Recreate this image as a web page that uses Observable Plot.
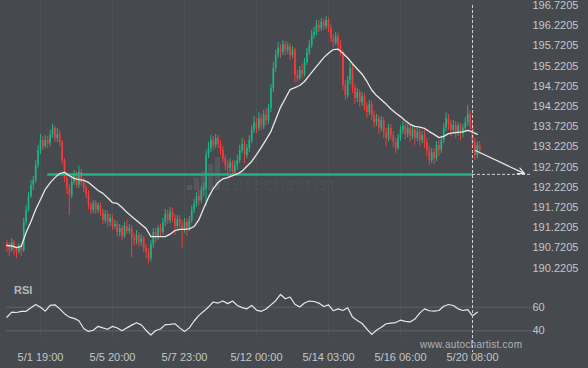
<!DOCTYPE html>
<html><head><meta charset="utf-8">
<script src="https://cdn.jsdelivr.net/npm/d3@7"></script>
<script src="https://cdn.jsdelivr.net/npm/@observablehq/plot@0.6"></script>
<style>
body{margin:0;background:#46494e;}
#wrap{position:relative;width:588px;height:368px;background:#46494e;overflow:hidden;font-family:"Liberation Sans",Arial,sans-serif;}
#wrap svg{display:block;overflow:visible;}
.ov{position:absolute;white-space:nowrap;}
#rsiLabel{left:14px;top:285px;font-size:11px;line-height:11px;font-weight:bold;color:#b5b9bd;}
#site{left:420px;top:340px;font-size:10px;line-height:10px;letter-spacing:0.25px;color:#b0b4b8;}
#wm{left:222px;top:176px;font-family:"Open Sans",sans-serif;font-weight:300;font-size:16px;line-height:16px;letter-spacing:2.4px;color:rgba(255,255,255,0.08);}
.wb{position:absolute;width:5px;background:rgba(255,255,255,0.08);}
</style></head><body><div id="wrap"></div>
<script>
// ---- data ----
const firstOpen = 190.83;
const close = [
190.78,190.66,190.85,190.71,190.61,190.76,190.66,191.35,191.65,191.99,
192.27,192.39,192.76,193.13,193.38,193.23,193.38,193.30,193.50,193.68,
193.43,193.53,193.33,192.88,192.44,192.19,192.02,192.34,192.51,192.27,
192.59,192.34,192.19,192.04,191.77,191.65,191.82,191.65,191.77,191.60,
191.40,191.55,191.35,191.45,191.25,191.30,191.10,191.20,191.00,191.25,
191.13,191.20,190.95,190.90,191.03,190.85,190.95,190.71,190.61,190.46,
190.80,191.10,190.98,191.20,191.10,191.35,191.55,191.40,191.60,191.45,
191.25,191.42,191.27,191.15,191.35,191.20,191.40,191.65,191.80,191.99,
191.89,192.14,192.19,193.01,193.18,193.38,193.26,193.43,193.28,193.13,
192.93,192.76,192.69,192.83,192.59,192.76,192.88,193.13,193.28,193.01,
193.18,193.38,193.63,193.82,193.68,193.92,193.73,194.00,193.87,194.17,
194.67,195.16,195.48,195.66,195.56,195.75,195.61,195.70,195.48,195.61,
194.99,194.91,195.11,195.01,195.31,195.56,195.73,195.98,196.05,196.23,
196.15,196.30,196.20,196.35,196.15,195.90,195.80,195.95,195.73,195.56,
194.74,194.49,194.86,195.16,194.67,194.42,194.57,194.32,194.47,194.22,
194.07,194.27,194.00,193.82,193.92,193.68,193.87,193.58,193.43,193.68,
193.50,193.33,193.18,193.43,193.63,193.73,193.53,193.68,193.48,193.63,
193.43,193.58,193.38,193.50,193.33,193.13,192.88,193.08,192.93,193.26,
193.13,193.38,193.68,193.92,193.78,193.63,193.75,193.58,193.73,193.55,
193.68,193.82,194.02,193.73,193.33,193.01,193.26,193.13];
const high = [
190.90,190.85,190.95,190.90,190.76,190.83,190.80,191.45,191.77,192.09,
192.39,192.49,192.88,193.26,193.53,193.48,193.50,193.48,193.63,193.78,
193.73,193.68,193.63,193.38,192.93,192.54,192.29,192.44,192.64,192.59,
192.74,192.66,192.44,192.27,192.14,191.84,191.89,191.89,191.84,191.84,
191.67,191.65,191.62,191.55,191.52,191.40,191.37,191.30,191.27,191.35,
191.40,191.30,191.27,191.08,191.15,191.10,191.05,191.00,190.80,190.71,
190.90,191.20,191.20,191.27,191.30,191.45,191.67,191.65,191.72,191.70,
191.55,191.52,191.52,191.40,191.45,191.45,191.50,191.75,191.92,192.09,
192.14,192.24,192.32,193.13,193.33,193.50,193.48,193.53,193.50,193.38,
193.23,193.01,192.88,192.93,192.88,192.88,193.01,193.26,193.43,193.38,
193.28,193.50,193.75,193.97,193.92,194.07,194.02,194.12,194.17,194.27,
194.76,195.31,195.61,195.80,195.75,195.85,195.83,195.80,195.78,195.70,
195.66,195.11,195.21,195.26,195.41,195.66,195.85,196.10,196.18,196.35,
196.35,196.40,196.37,196.45,196.42,196.23,196.00,196.05,196.03,195.85,
195.61,194.86,194.96,195.31,195.24,194.76,194.67,194.64,194.57,194.54,
194.32,194.37,194.35,194.10,194.02,194.00,193.97,193.95,193.68,193.78,
193.78,193.60,193.43,193.53,193.73,193.85,193.80,193.78,193.75,193.73,
193.70,193.68,193.65,193.60,193.63,193.43,193.23,193.18,193.18,193.35,
193.38,193.48,193.80,194.07,194.02,193.87,193.87,193.85,193.82,193.80,
193.78,193.95,194.25,194.12,193.82,193.43,193.35,193.35];
const low = [
190.61,190.51,190.61,190.53,190.46,190.56,190.51,190.61,191.27,191.60,
191.94,192.14,192.32,192.69,193.03,193.13,193.18,193.18,193.23,193.43,
193.33,193.33,193.23,192.78,192.34,192.04,191.52,191.94,192.27,192.19,
192.19,192.24,192.09,191.94,191.67,191.55,191.57,191.55,191.57,191.50,
191.30,191.32,191.22,191.25,191.15,191.18,190.98,191.00,190.90,190.95,
191.05,191.05,190.48,190.76,190.80,190.73,190.76,190.61,190.46,190.33,
190.38,190.71,190.85,190.90,191.00,191.03,191.25,191.30,191.32,191.35,
191.03,191.18,191.18,190.71,191.08,191.00,191.13,191.32,191.57,191.72,
191.77,191.82,191.99,191.75,192.93,193.08,193.13,193.18,193.18,193.01,
192.83,192.64,192.54,192.59,192.46,192.49,192.64,192.81,193.06,192.81,
192.93,193.08,193.30,193.55,193.55,193.60,193.63,193.65,193.75,193.78,
194.07,194.57,195.06,195.41,195.41,195.48,195.48,195.51,195.36,195.41,
194.81,194.81,194.86,194.91,194.96,195.24,195.48,195.66,195.88,195.98,
196.05,196.08,196.10,196.13,196.05,195.80,195.68,195.73,195.61,195.46,
194.62,194.37,194.42,194.76,194.54,194.27,194.32,194.20,194.22,194.10,
193.92,194.00,193.87,193.70,193.73,193.53,193.60,193.43,193.23,193.35,
193.38,193.20,193.06,193.13,193.35,193.53,193.40,193.45,193.33,193.40,
193.26,193.35,193.23,193.30,193.18,192.98,192.76,192.81,192.78,192.86,
192.98,193.06,193.30,193.60,193.63,193.48,193.53,193.43,193.48,193.38,
193.45,193.60,193.73,193.63,193.23,192.88,192.93,193.03];
// moving average, one reading every second bar
const movingAvg = [
190.78,190.77,190.73,190.76,191.10,191.37,191.67,191.92,192.17,192.33,
192.46,192.56,192.59,192.51,192.44,192.41,192.39,192.34,192.24,192.14,
192.07,191.96,191.84,191.82,191.72,191.60,191.50,191.40,191.30,191.20,
191.00,191.00,191.00,191.00,191.06,191.15,191.18,191.18,191.19,191.25,
191.42,191.70,191.97,192.19,192.34,192.43,192.46,192.51,192.55,192.62,
192.74,192.86,193.03,193.21,193.40,193.60,193.90,194.20,194.42,194.64,
194.69,194.74,194.84,194.99,195.14,195.28,195.43,195.54,195.63,195.64,
195.54,195.42,195.28,195.15,195.02,194.84,194.63,194.49,194.39,194.28,
194.16,194.06,193.97,193.87,193.78,193.73,193.71,193.68,193.60,193.53,
193.45,193.48,193.55,193.57,193.58,193.59,193.63,193.59,193.53];
// RSI, one reading every second bar
const rsi = [
51.5,55.8,55.5,56.5,56.5,59.5,62.3,60.0,56.7,61.5,
62,58.6,54.5,51.6,50.5,48.5,42,39.5,40.5,43.8,
42.5,41.3,43.8,42.4,40,42.5,44.8,46.8,45,40.3,
36.5,40.3,41.5,45.2,45.4,46,42.5,39.5,42.5,48.3,
53.1,56.5,60.2,64.4,63.5,65.2,63,65.2,61.5,59.6,
58.6,61.5,57.5,56.5,58.5,62,65.5,70.8,67.1,68.6,
62.5,60.2,63.5,65.2,64.8,63.5,60.6,62,57,58.6,
57.2,59.5,51.6,48.8,46.2,41.5,37,40.5,43,46,
46.5,47,49,48,47.5,50,55,58.6,57,56.7,
57.2,60.8,62.3,61.4,58.6,57.2,58,52.7,55.8];
const tickBars = [14,44,74,104,134,164,194];
const tickLabels = ["5/1 19:00","5/5 20:00","5/7 23:00","5/12 00:00","5/14 03:00","5/16 06:00","5/20 08:00"];
const priceTicks = [190.2205,190.7205,191.2205,191.7205,192.2205,192.7205,193.2205,193.7205,194.2205,194.7205,195.2205,195.7205,196.2205,196.7205];
const rsiTicks = [40,60];
const levelPrice = 192.54;
const levelStartBar = 17;
const signalBar = 194;
const projectionEndBar = 218.6;
const arrowBars = [195.2, 215.7];
const arrowPrices = [193.13, 192.56];

// ---- build ----
const UP = "#1db489", DOWN = "#f23c3c", TEAL = "#1fb386", LINE = "#e8e8e8", DASH = "#d0d0d0", TXT = "#c3c6ca";
const candles = close.map((c, i) => ({i, open: i ? close[i-1] : firstOpen, close: c, high: high[i], low: low[i]}));
candles.forEach(d => d.color = d.close >= d.open ? UP : DOWN);
const maData = movingAvg.map((v, k) => ({i: 2*k, v}));
const rsiData = rsi.map((v, k) => ({i: 2*k, v}));
const xDomain = [-0.17, 219];
const yDomain = [189.9136, 196.8443];
const rsiDomain = [31.8, 82.6];
const fmtX = d => tickLabels[tickBars.indexOf(d)];
const style = {background: "transparent", color: TXT, fontFamily: "'Liberation Sans', Arial, sans-serif", fontSize: "11px", overflow: "visible"};

const main = Plot.plot({
  width: 588, height: 280, marginTop: 0, marginBottom: 0, marginLeft: 6, marginRight: 56,
  style,
  x: {domain: xDomain, axis: null},
  y: {domain: yDomain, axis: null},
  marks: [
    Plot.ruleX(tickBars, {stroke: "#ffffff", strokeOpacity: 0.035}),
    Plot.axisY(priceTicks, {anchor: "right", tickSize: 0, tickPadding: 0, tickFormat: d => d.toFixed(4), fill: TXT}),
    Plot.ruleX(candles, {x: "i", y1: "low", y2: "high", stroke: "color", strokeWidth: 1}),
    Plot.ruleX(candles, {x: "i", y1: "open", y2: "close", stroke: "color", strokeWidth: 1.7}),
    Plot.ruleY([{y: levelPrice, x1: levelStartBar, x2: signalBar}], {y: "y", x1: "x1", x2: "x2", stroke: TEAL, strokeWidth: 2.5}),
    Plot.ruleY([{y: levelPrice, x1: signalBar, x2: projectionEndBar}], {y: "y", x1: "x1", x2: "x2", stroke: DASH, strokeWidth: 1, strokeDasharray: "3,2"}),
    Plot.lineY(maData, {x: "i", y: "v", stroke: LINE, strokeWidth: 1.3}),
    Plot.ruleX([{x: signalBar, y1: priceTicks[priceTicks.length-1], y2: yDomain[0]}], {x: "x", y1: "y1", y2: "y2", stroke: DASH, strokeWidth: 1, strokeDasharray: "3,2"}),
    Plot.arrow([{x1: arrowBars[0], y1: arrowPrices[0], x2: arrowBars[1], y2: arrowPrices[1]}], {x1: "x1", y1: "y1", x2: "x2", y2: "y2", stroke: LINE, strokeWidth: 1.2, headLength: 9, headAngle: 50})
  ]
});

const rsiPlot = Plot.plot({
  width: 588, height: 88, marginTop: 0, marginBottom: 28, marginLeft: 6, marginRight: 56,
  style,
  x: {domain: xDomain, axis: null},
  y: {domain: rsiDomain, axis: null},
  marks: [
    Plot.ruleX(tickBars, {y1: rsiDomain[1], y2: rsiDomain[0], stroke: "#ffffff", strokeOpacity: 0.035}),
    Plot.ruleY(rsiTicks, {stroke: "#5e6267", strokeWidth: 1}),
    Plot.axisY(rsiTicks, {anchor: "right", tickSize: 0, tickPadding: 0, fill: TXT}),
    Plot.axisX(tickBars, {tickSize: 0, tickPadding: 13, tickFormat: fmtX, fill: TXT}),
    Plot.lineY(rsiData, {x: "i", y: "v", stroke: LINE, strokeWidth: 1.2}),
    Plot.ruleX([{x: signalBar, y1: rsiDomain[1], y2: 21.6}], {x: "x", y1: "y1", y2: "y2", stroke: DASH, strokeWidth: 1, strokeDasharray: "3,2"})
  ]
});

const wrap = document.getElementById("wrap");
// watermark (behind the chart)
[[187,5],[194,12],[201,19],[208,26],[215,33]].forEach(([l,h]) => {
  const b = document.createElement("div"); b.className = "wb";
  b.style.left = l + "px"; b.style.top = (190 - h) + "px"; b.style.height = h + "px";
  wrap.appendChild(b);
});
const wm = document.createElement("div"); wm.className = "ov"; wm.id = "wm"; wm.textContent = "autochartist";
wrap.appendChild(wm);
main.style.position = "absolute"; main.style.left = "0px"; main.style.top = "0px";
rsiPlot.style.position = "absolute"; rsiPlot.style.left = "0px"; rsiPlot.style.top = "280px";
wrap.appendChild(main);
wrap.appendChild(rsiPlot);
const lab = document.createElement("div"); lab.className = "ov"; lab.id = "rsiLabel"; lab.textContent = "RSI";
wrap.appendChild(lab);
const site = document.createElement("div"); site.className = "ov"; site.id = "site"; site.textContent = "www.autochartist.com";
wrap.appendChild(site);
</script></body></html>
